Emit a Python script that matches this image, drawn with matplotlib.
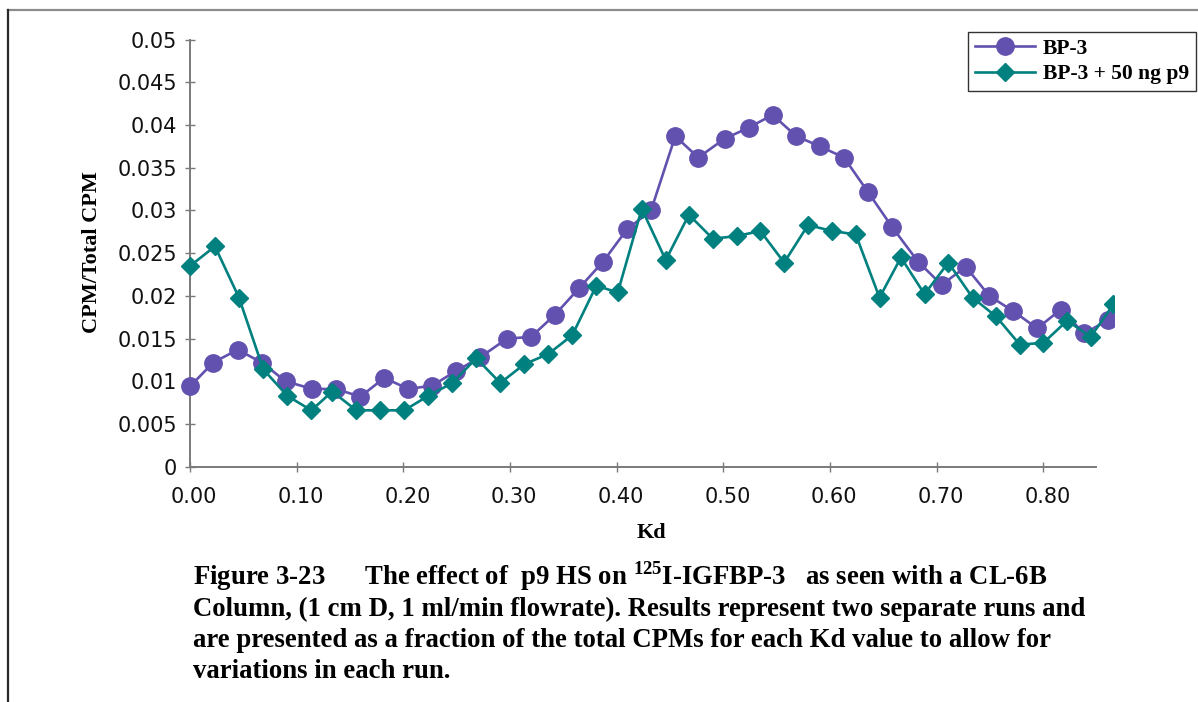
import matplotlib
matplotlib.use("Agg")
import matplotlib.pyplot as plt
from matplotlib.lines import Line2D
from matplotlib.ticker import FixedLocator, FixedFormatter
import matplotlib.transforms as mtransforms

# ---------------- data ----------------
kd_bp3 = [0.000, 0.0218, 0.0447, 0.0672, 0.0897, 0.1147, 0.1369, 0.1597, 0.1822, 0.2047,
          0.2272, 0.2494, 0.2719, 0.2972, 0.3197, 0.3422, 0.3647, 0.3872, 0.4097, 0.4322,
          0.4549, 0.4765, 0.5011, 0.5238, 0.5461, 0.5684, 0.5907, 0.6131, 0.6354, 0.6580,
          0.6826, 0.7046, 0.7273, 0.7493, 0.7719, 0.7942, 0.8163, 0.8383, 0.8610]
cpm_bp3 = [0.0094, 0.0122, 0.0137, 0.0122, 0.0100, 0.0091, 0.0091, 0.0082, 0.0104, 0.0091,
           0.0095, 0.0112, 0.0128, 0.0150, 0.0152, 0.0178, 0.0209, 0.0240, 0.0278, 0.0300,
           0.0387, 0.0362, 0.0384, 0.0397, 0.0412, 0.0387, 0.0375, 0.0362, 0.0322, 0.0281,
           0.0240, 0.0213, 0.0234, 0.0200, 0.0182, 0.0162, 0.0184, 0.0156, 0.0172]

kd_p9 = [0.000, 0.0234, 0.0459, 0.0687, 0.0912, 0.1137, 0.1334, 0.1559, 0.1784, 0.2009,
         0.2234, 0.2459, 0.2684, 0.2909, 0.3134, 0.3359, 0.3584, 0.3809, 0.4010, 0.4235,
         0.4460, 0.4677, 0.4901, 0.5124, 0.5347, 0.5570, 0.5794, 0.6018, 0.6241, 0.6464,
         0.6665, 0.6886, 0.7109, 0.7336, 0.7556, 0.7779, 0.8000, 0.8223, 0.8443, 0.8657]
cpm_p9 = [0.0235, 0.0258, 0.0198, 0.0114, 0.0083, 0.0066, 0.0088, 0.0066, 0.0066, 0.0066,
          0.0083, 0.0098, 0.0127, 0.0098, 0.0120, 0.0132, 0.0154, 0.0212, 0.0204, 0.0302,
          0.0242, 0.0295, 0.0267, 0.0270, 0.0276, 0.0239, 0.0283, 0.0276, 0.0272, 0.0198,
          0.0245, 0.0202, 0.0239, 0.0198, 0.0176, 0.0143, 0.0145, 0.0171, 0.0152, 0.0190]

series_labels = ["BP-3", "BP-3 + 50 ng p9"]
x_ticks = [0.0, 0.1, 0.2, 0.3, 0.4, 0.5, 0.6, 0.7, 0.8]
x_tick_labels = ["0.00", "0.10", "0.20", "0.30", "0.40", "0.50", "0.60", "0.70", "0.80"]
y_ticks = [0, 0.005, 0.01, 0.015, 0.02, 0.025, 0.03, 0.035, 0.04, 0.045, 0.05]
y_tick_labels = ["0", "0.005", "0.01", "0.015", "0.02", "0.025", "0.03", "0.035", "0.04", "0.045", "0.05"]
x_label = "Kd"
y_label = "CPM/Total CPM"
caption_lines = [
    r"Figure 3-23      The effect of  p9 HS on $^{\mathbf{125}}$I-IGFBP-3   as seen with a CL-6B",
    "Column, (1 cm D, 1 ml/min flowrate). Results represent two separate runs and",
    "are presented as a fraction of the total CPMs for each Kd value to allow for",
    "variations in each run.",
]

# ---------------- style ----------------
plt.rcParams['mathtext.fontset'] = 'custom'
plt.rcParams['mathtext.bf'] = 'Liberation Serif:bold'
plt.rcParams['mathtext.rm'] = 'Liberation Serif:bold'

W, H = 1198, 702
fig = plt.figure(figsize=(W / 100, H / 100), dpi=100)

purple = "#6351AF"
teal = "#00807F"
axis_grey = "#7a7a7a"

# axes geometry in pixels
px_per_unit = 1066.7       # pixels per Kd unit
x0_px = 190                # Kd = 0
left_kd = -0.02
right_px = 1114
left_px = x0_px + left_kd * px_per_unit
bottom_px = 466.7
top_px = 39.7
ax = fig.add_axes([left_px / W, 1 - bottom_px / H, (right_px - left_px) / W, (bottom_px - top_px) / H])
ax.set_xlim(left_kd, (right_px - x0_px) / px_per_unit)
ax.set_ylim(0, 0.05)

ax.plot(kd_bp3, cpm_bp3, color=purple, lw=1.9, marker='o', ms=12.5, mec=purple, mfc=purple,
        label=series_labels[0], zorder=3)
ax.plot(kd_p9, cpm_p9, color=teal, lw=1.9, marker='D', ms=9.5, mec=teal, mfc=teal,
        label=series_labels[1], zorder=4)

for s in ['top', 'right']:
    ax.spines[s].set_visible(False)
ax.spines['left'].set_position(('data', 0))
ax.spines['bottom'].set_bounds(0, (1096 - x0_px) / px_per_unit)
for s in ['left', 'bottom']:
    ax.spines[s].set_color(axis_grey)
    ax.spines[s].set_linewidth(1.4)

ax.xaxis.set_major_locator(FixedLocator(x_ticks))
ax.xaxis.set_major_formatter(FixedFormatter(x_tick_labels))
ax.yaxis.set_major_locator(FixedLocator(y_ticks))
ax.yaxis.set_major_formatter(FixedFormatter(y_tick_labels))
ax.tick_params(axis='both', direction='inout', length=7, width=1.0, color=axis_grey,
               labelsize=15, labelcolor="#111111")
ax.tick_params(axis='y', pad=6)
ax.tick_params(axis='x', pad=11)
offset = mtransforms.ScaledTranslation(4 / 100, 0, fig.dpi_scale_trans)
for lab in ax.get_xticklabels():
    lab.set_transform(lab.get_transform() + offset)

serif_bold = dict(family="Liberation Serif", weight="bold", color="black")
fig.text(651 / W, 1 - 533 / H, x_label, ha='center', va='center', fontsize=16, **serif_bold)
fig.text(92 / W, 1 - 252 / H, y_label, ha='center', va='center', rotation=90, fontsize=16, **serif_bold)

leg = ax.legend(loc='upper right', bbox_to_anchor=(1196 / W, 1 - 32 / H), bbox_transform=fig.transFigure,
                borderaxespad=0, frameon=True, fancybox=False, edgecolor='black',
                prop=dict(family="Liberation Serif", weight="bold", size=15.5),
                handlelength=2.8, handletextpad=0.35, labelspacing=0.25, borderpad=0.32)
leg.get_frame().set_linewidth(1.0)

baselines = [585, 616, 647, 678]
for line, yb in zip(caption_lines, baselines):
    fig.text(193 / W, 1 - yb / H, line, ha='left', va='baseline', fontsize=19.3, **serif_bold)

# page border lines
fig.add_artist(Line2D([8 / W, 1.0], [1 - 10 / H, 1 - 10 / H], transform=fig.transFigure,
                      color="#8c8c8c", lw=1.6))
fig.add_artist(Line2D([8 / W, 8 / W], [1 - 10 / H, 0], transform=fig.transFigure,
                      color="#2a2a2a", lw=1.6))

fig.savefig("out.png", dpi=100)
